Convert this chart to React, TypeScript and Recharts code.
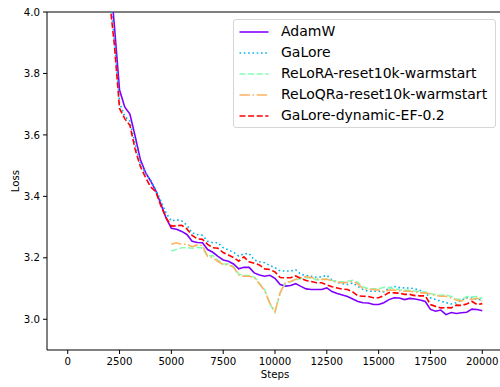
import { LineChart, Line, XAxis, YAxis, ReferenceLine } from 'recharts';

// training steps shared by every run
const steps = [
  2000, 2250, 2500, 2750, 3000, 3250, 3500, 3750, 4000, 4250, 4500, 4750,
  5000, 5250, 5500, 5750, 6000, 6250, 6500, 6750, 7000, 7250, 7500, 7750,
  8000, 8250, 8500, 8750, 9000, 9250, 9500, 9750, 10000, 10250, 10500, 10750,
  11000, 11250, 11500, 11750, 12000, 12250, 12500, 12750, 13000, 13250, 13500, 13750,
  14000, 14250, 14500, 14750, 15000, 15250, 15500, 15750, 16000, 16250, 16500, 16750,
  17000, 17250, 17500, 17750, 18000, 18250, 18500, 18750, 19000, 19250, 19500, 19750,
  20000,
];

const adamw = [
  4.15, 3.956, 3.746, 3.691, 3.668, 3.597, 3.521, 3.478, 3.45, 3.418, 3.374, 3.329,
  3.296, 3.293, 3.286, 3.276, 3.254, 3.25, 3.249, 3.227, 3.218, 3.205, 3.193, 3.189,
  3.18, 3.164, 3.169, 3.169, 3.151, 3.144, 3.14, 3.143, 3.133, 3.113, 3.108, 3.11,
  3.116, 3.107, 3.099, 3.097, 3.097, 3.097, 3.102, 3.09, 3.084, 3.079, 3.074, 3.066,
  3.058, 3.054, 3.053, 3.048, 3.048, 3.054, 3.064, 3.07, 3.069, 3.064, 3.068, 3.066,
  3.063, 3.058, 3.032, 3.026, 3.03, 3.015, 3.022, 3.019, 3.021, 3.023, 3.033, 3.032,
  3.028,
];

const galore = [
  4.07, 3.913, 3.704, 3.661, 3.645, 3.573, 3.508, 3.475, 3.453, 3.42, 3.384, 3.345,
  3.32, 3.324, 3.32, 3.306, 3.281, 3.276, 3.273, 3.254, 3.249, 3.249, 3.233, 3.226,
  3.218, 3.206, 3.213, 3.214, 3.193, 3.187, 3.184, 3.175, 3.168, 3.157, 3.157, 3.157,
  3.161, 3.146, 3.143, 3.14, 3.137, 3.138, 3.143, 3.128, 3.12, 3.116, 3.113, 3.118,
  3.107, 3.097, 3.091, 3.091, 3.091, 3.089, 3.102, 3.107, 3.103, 3.102, 3.102, 3.099,
  3.094, 3.086, 3.07, 3.064, 3.059, 3.054, 3.05, 3.054, 3.063, 3.07, 3.07, 3.064,
  3.064,
];

// ReLoRA / ReLoQRa runs start logging at step 5000
const reloraStart = 5000;
const relora = [
  3.222, 3.227, 3.233, 3.233, 3.231, 3.234, 3.232, 3.205, 3.208, 3.192, 3.18, 3.18,
  3.172, 3.147, 3.142, 3.142, 3.138, 3.117, 3.096, 3.05, 3.023, 3.085, 3.117, 3.122,
  3.128, 3.133, 3.136, 3.134, 3.129, 3.129, 3.131, 3.126, 3.123, 3.121, 3.124, 3.127,
  3.12, 3.105, 3.1, 3.099, 3.099, 3.104, 3.103, 3.1, 3.096, 3.095, 3.094, 3.092,
  3.09, 3.089, 3.084, 3.08, 3.078, 3.079, 3.074, 3.066, 3.064, 3.074, 3.073, 3.074,
  3.068,
];

const reloqra = [
  3.244, 3.249, 3.244, 3.244, 3.236, 3.242, 3.24, 3.205, 3.2, 3.188, 3.178, 3.178,
  3.169, 3.144, 3.14, 3.14, 3.136, 3.115, 3.094, 3.052, 3.025, 3.087, 3.12, 3.123,
  3.13, 3.136, 3.139, 3.136, 3.131, 3.13, 3.13, 3.125, 3.121, 3.119, 3.12, 3.123,
  3.115, 3.099, 3.097, 3.097, 3.095, 3.089, 3.095, 3.095, 3.092, 3.091, 3.091, 3.089,
  3.086, 3.086, 3.082, 3.077, 3.075, 3.075, 3.069, 3.063, 3.059, 3.069, 3.064, 3.069,
  3.059,
];

const galoreEf = [
  4.05, 3.894, 3.686, 3.653, 3.631, 3.554, 3.498, 3.462, 3.431, 3.415, 3.368, 3.33,
  3.303, 3.304, 3.306, 3.294, 3.273, 3.262, 3.26, 3.244, 3.233, 3.231, 3.217, 3.209,
  3.201, 3.189, 3.203, 3.187, 3.182, 3.177, 3.164, 3.162, 3.154, 3.136, 3.135, 3.135,
  3.141, 3.133, 3.126, 3.123, 3.119, 3.119, 3.112, 3.106, 3.102, 3.098, 3.097, 3.089,
  3.076, 3.075, 3.074, 3.07, 3.07, 3.077, 3.087, 3.086, 3.085, 3.081, 3.081, 3.077,
  3.076, 3.076, 3.048, 3.042, 3.037, 3.038, 3.037, 3.046, 3.045, 3.05, 3.058, 3.048,
  3.051,
];

const xTicks = [0, 2500, 5000, 7500, 10000, 12500, 15000, 17500, 20000];
const yTicks = [3.0, 3.2, 3.4, 3.6, 3.8, 4.0];

const series = [
  { key: 'adamw', name: 'AdamW', color: '#8000ff', dash: undefined },
  { key: 'galore', name: 'GaLore', color: '#00b4ec', dash: '1.6 2.7' },
  { key: 'relora', name: 'ReLoRA-reset10k-warmstart', color: '#80ffb4', dash: '6 2.6' },
  { key: 'reloqra', name: 'ReLoQRa-reset10k-warmstart', color: '#ffb360', dash: '10.4 2.6 1.6 2.6' },
  { key: 'galoreEf', name: 'GaLore-dynamic-EF-0.2', color: '#ff0000', dash: '6 2.6' },
];

const offsetIdx = steps.indexOf(reloraStart);
const data = steps.map((step, i) => ({
  step,
  adamw: adamw[i],
  galore: galore[i],
  relora: i >= offsetIdx ? relora[i - offsetIdx] : null,
  reloqra: i >= offsetIdx ? reloqra[i - offsetIdx] : null,
  galoreEf: galoreEf[i],
}));

const font = '"DejaVu Sans", sans-serif';
const tickStyle = { fontSize: 10.2, fill: '#000', fontFamily: font };

function LossLabel(props: any) {
  const vb = props.viewBox;
  const cx = 15;
  const cy = vb.y + vb.height / 2;
  return (
    <text x={cx} y={cy} transform={`rotate(-90, ${cx}, ${cy})`} textAnchor="middle"
      dominantBaseline="central" fontSize={10.2} fontFamily={font} fill="#000">
      Loss
    </text>
  );
}

function StepsLabel(props: any) {
  const vb = props.viewBox;
  return (
    <text x={vb.x + vb.width / 2} y={378} textAnchor="middle" fontSize={10.2}
      fontFamily={font} fill="#000">
      Steps
    </text>
  );
}

function LegendBox() {
  return (
    <div style={{
      position: 'absolute', left: 233, top: 19, width: 261, height: 107,
      border: '1px solid #d6d6d6', borderRadius: 3, background: 'rgba(255,255,255,0.8)',
      fontFamily: font, fontSize: 14, color: '#000',
    }}>
      {series.map((s, i) => (
        <div key={s.key} style={{ position: 'absolute', left: 5, top: 1 + i * 21, height: 21, display: 'flex', alignItems: 'center' }}>
          <svg width={30} height={6} style={{ display: 'block' }}>
            <line x1={0.5} y1={3} x2={29.5} y2={3} stroke={s.color} strokeWidth={1.6} strokeDasharray={s.dash} />
          </svg>
          <span style={{ marginLeft: 12, whiteSpace: 'nowrap', lineHeight: '21px' }}>{s.name}</span>
        </div>
      ))}
    </div>
  );
}

export default function App() {
  return (
    <div style={{ position: 'absolute', left: 0, top: 0, width: 500, height: 387, overflow: 'hidden', background: '#fff' }}>
      <LineChart width={510} height={387} data={data} margin={{ top: 12, right: 7, bottom: 0, left: 0 }}>
        <XAxis dataKey="step" type="number" domain={[-1000, 21000]} ticks={xTicks} allowDataOverflow
          height={37} tickSize={4} tickMargin={4} tick={tickStyle}
          axisLine={{ stroke: '#000', strokeWidth: 1 }} tickLine={{ stroke: '#000', strokeWidth: 1 }}
          label={<StepsLabel />} />
        <YAxis type="number" domain={[2.9, 4.0]} ticks={yTicks} allowDataOverflow width={47}
          tickSize={4} tickMargin={3} tick={tickStyle} tickFormatter={(v: number) => v.toFixed(1)}
          axisLine={{ stroke: '#000', strokeWidth: 1 }} tickLine={{ stroke: '#000', strokeWidth: 1 }}
          label={<LossLabel />} />
        <ReferenceLine y={4.0} stroke="#000" strokeWidth={1} />
        <ReferenceLine x={21000} stroke="#000" strokeWidth={1} />
        {series.map((s) => (
          <Line key={s.key} type="linear" dataKey={s.key} name={s.name} stroke={s.color}
            strokeWidth={1.6} strokeDasharray={s.dash} dot={false} connectNulls={false}
            isAnimationActive={false} />
        ))}
      </LineChart>
      <LegendBox />
    </div>
  );
}
